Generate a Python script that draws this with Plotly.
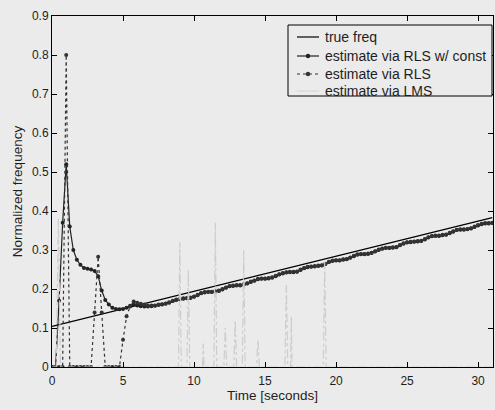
import plotly.graph_objects as go

# ---------------- data ----------------
true_t = [0.0, 31.0]
true_f = [0.104, 0.383]

est_t = [i * 0.25 for i in range(125)]  # 0 .. 31 s

rls_const = [
    0.000, 0.000, 0.170, 0.370, 0.520, 0.360, 0.300, 0.275, 0.262, 0.254,
    0.252, 0.250, 0.246, 0.233, 0.196, 0.172, 0.160, 0.152, 0.149, 0.148,
    0.149, 0.152, 0.157, 0.160, 0.158, 0.156, 0.155, 0.155, 0.156, 0.157,
    0.159, 0.160, 0.162, 0.165, 0.169, 0.172, 0.174, 0.175, 0.176, 0.177,
    0.180, 0.184, 0.189, 0.191, 0.192, 0.192, 0.193, 0.195, 0.199, 0.203,
    0.207, 0.208, 0.209, 0.209, 0.211, 0.214, 0.218, 0.221, 0.225, 0.226,
    0.226, 0.227, 0.229, 0.233, 0.237, 0.240, 0.242, 0.243, 0.243, 0.244,
    0.249, 0.253, 0.256, 0.257, 0.258, 0.259, 0.260, 0.264, 0.269, 0.272,
    0.273, 0.273, 0.275, 0.276, 0.280, 0.284, 0.288, 0.289, 0.289, 0.290,
    0.292, 0.296, 0.300, 0.303, 0.305, 0.305, 0.306, 0.307, 0.312, 0.316,
    0.319, 0.320, 0.321, 0.322, 0.323, 0.327, 0.332, 0.335, 0.336, 0.336,
    0.338, 0.339, 0.343, 0.347, 0.351, 0.352, 0.352, 0.353, 0.355, 0.359,
    0.363, 0.366, 0.368, 0.368, 0.369,
]

rls = [
    0.000, 0.000, 0.000, 0.000, 0.800, 0.000, 0.000, 0.000, 0.000, 0.000,
    0.000, 0.000, 0.140, 0.283, 0.140, 0.000, 0.000, 0.000, 0.000, 0.000,
    0.070, 0.130, 0.155, 0.168, 0.165, 0.162, 0.160, 0.158, 0.158, 0.158,
    0.160, 0.161, 0.163, 0.166, 0.170, 0.173, 0.175, 0.176, 0.177, 0.178,
    0.181, 0.185, 0.190, 0.192, 0.193, 0.193, 0.194, 0.196, 0.200, 0.204,
    0.208, 0.209, 0.210, 0.210, 0.212, 0.215, 0.219, 0.222, 0.226, 0.227,
    0.227, 0.228, 0.230, 0.234, 0.238, 0.241, 0.243, 0.244, 0.244, 0.245,
    0.250, 0.254, 0.257, 0.258, 0.259, 0.260, 0.261, 0.265, 0.270, 0.273,
    0.274, 0.274, 0.276, 0.277, 0.281, 0.285, 0.289, 0.290, 0.290, 0.291,
    0.293, 0.297, 0.301, 0.304, 0.306, 0.306, 0.307, 0.308, 0.313, 0.317,
    0.320, 0.321, 0.322, 0.323, 0.324, 0.328, 0.333, 0.336, 0.337, 0.337,
    0.339, 0.340, 0.344, 0.348, 0.352, 0.353, 0.353, 0.354, 0.356, 0.360,
    0.364, 0.367, 0.369, 0.369, 0.370,
]

lms_t = [0.0, 0.3, 0.45, 0.6, 8.9, 9.0, 9.1, 9.5, 9.6, 9.7, 10.6, 10.65, 10.7,
         11.4, 11.5, 11.6, 12.1, 12.2, 12.3, 12.8, 12.9, 13.0, 13.4, 13.5, 13.6,
         14.4, 14.5, 14.6, 16.4, 16.5, 16.6, 16.8, 16.85, 16.9, 19.1, 19.2, 19.3, 31.0]
lms_v = [0.0, 0.0, 0.38, 0.0, 0.0, 0.32, 0.0, 0.0, 0.25, 0.0, 0.0, 0.06, 0.0,
         0.0, 0.37, 0.0, 0.0, 0.10, 0.0, 0.0, 0.12, 0.0, 0.0, 0.30, 0.0,
         0.0, 0.07, 0.0, 0.0, 0.21, 0.0, 0.0, 0.13, 0.0, 0.0, 0.27, 0.0, 0.0]

series_names = ["true freq", "estimate via RLS w/ const",
                "estimate via RLS", "estimate via LMS"]

x_ticks = [0, 5, 10, 15, 20, 25, 30]
y_ticks = [0, 0.1, 0.2, 0.3, 0.4, 0.5, 0.6, 0.7, 0.8, 0.9]

# ---------------- figure ----------------
W, H = 495, 410
ML, MR, MT, MB = 52, 2, 16, 43
PW, PH = W - ML - MR, H - MT - MB

BG = "#ebebeb"
INK = "#1e1e1e"
FONT = "Liberation Sans, Arial, sans-serif"

styles = [
    dict(line=dict(color="black", width=1.2), marker=None),
    dict(line=dict(color="#222222", width=1.2), marker=dict(color="#222222", size=4)),
    dict(line=dict(color="#333333", width=1.2, dash="dot"), marker=dict(color="#333333", size=4)),
    dict(line=dict(color="#cdcdcd", width=1.2, dash="dashdot"), marker=None),
]

fig = go.Figure()
xs = [true_t, est_t, est_t, lms_t]
ys = [true_f, rls_const, rls, lms_v]
for name, x, y, st in zip(series_names, xs, ys, styles):
    kw = dict(x=x, y=y, name=name, line=st["line"], showlegend=False)
    if st["marker"]:
        fig.add_trace(go.Scatter(mode="lines+markers", marker=st["marker"], **kw))
    else:
        fig.add_trace(go.Scatter(mode="lines", **kw))

axis_common = dict(showline=True, linecolor="black", linewidth=1, mirror="ticks",
                   ticks="inside", ticklen=5, tickcolor="black", showgrid=False,
                   zeroline=False, tickfont=dict(family=FONT, size=12, color=INK))

fig.update_xaxes(range=[0, 31.05], tickvals=x_ticks, ticklabelstandoff=3,
                 title=dict(text="Time [seconds]", font=dict(family=FONT, size=13.5, color=INK),
                            standoff=3),
                 **axis_common)
fig.update_yaxes(range=[0, 0.9], tickvals=y_ticks,
                 title=dict(text="Normalized frequency", font=dict(family=FONT, size=13.5, color=INK),
                            standoff=6),
                 **axis_common)

# ---- legend box drawn in paper coordinates (MATLAB-style compact legend) ----
def px(xp):
    return (xp - ML) / PW

def py(yp):
    return (H - MB - yp) / PH

shapes = [dict(type="rect", xref="paper", yref="paper",
               x0=px(288), x1=px(492), y0=py(96), y1=py(25),
               line=dict(color="black", width=1), fillcolor=BG, layer="above")]
annotations = []
rows = [37, 56, 74, 91]
for name, st, ry in zip(series_names, styles, rows):
    ln = dict(color=st["line"]["color"], width=st["line"]["width"],
              dash=st["line"].get("dash", "solid"))
    if name == "estimate via LMS":
        ln = dict(color="#d4d4d4", width=1, dash="solid")
    shapes.append(dict(type="line", xref="paper", yref="paper",
                       x0=px(297), x1=px(319), y0=py(ry), y1=py(ry), line=ln, layer="above"))
    if st["marker"]:
        r = 2.2
        shapes.append(dict(type="circle", xref="paper", yref="paper",
                           x0=px(308 - r), x1=px(308 + r), y0=py(ry + r), y1=py(ry - r),
                           fillcolor=st["marker"]["color"], line=dict(width=0), layer="above"))
    annotations.append(dict(xref="paper", yref="paper", x=px(324), y=py(ry),
                            xanchor="left", yanchor="middle", showarrow=False, text=name,
                            borderpad=0, font=dict(family=FONT, size=14, color=INK)))

fig.update_layout(
    width=W, height=H,
    margin=dict(l=ML, r=MR, t=MT, b=MB),
    paper_bgcolor=BG, plot_bgcolor=BG,
    font=dict(family=FONT, size=12, color=INK),
    shapes=shapes, annotations=annotations,
    showlegend=False,
)

fig.write_html("out.html")
